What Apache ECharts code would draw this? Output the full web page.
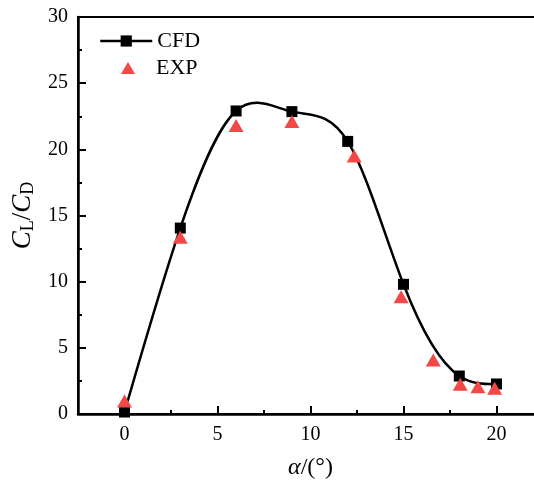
<!DOCTYPE html>
<html>
<head>
<meta charset="utf-8">
<script src="https://cdn.jsdelivr.net/npm/echarts@6/dist/echarts.min.js"></script>
<style>
  html, body { margin: 0; padding: 0; background: #fff; }
  #chart { width: 534px; height: 488px; }
</style>
</head>
<body>
<div id="chart"></div>
<script>
// Angle of attack (deg) and lift-to-drag ratio
const cfdAlpha = [0, 3, 6, 9, 12, 15, 18, 20];
const cfdRatio = [0.15, 14.05, 22.9, 22.85, 20.6, 9.8, 2.87, 2.27];
const expAlpha = [0, 3, 6, 9, 12.35, 14.87, 16.6, 18.05, 19.0, 19.9];
const expRatio = [0.98, 13.35, 21.8, 22.1, 19.5, 8.86, 4.08, 2.24, 2.06, 1.94];
const xTicks = [0, 5, 10, 15, 20];
const xMinorTicks = [2.5, 7.5, 12.5, 17.5];
const yTicks = [0, 5, 10, 15, 20, 25, 30];

const pair = (xs, ys) => xs.map((x, i) => [x, ys[i]]);
const font = '"Liberation Serif", "Times New Roman", serif';

// Natural cubic spline slopes at each knot
function splineSlopes(xs, ys) {
  const n = xs.length;
  const h = [], a = new Array(n).fill(0), b = new Array(n).fill(0),
        c = new Array(n).fill(0), d = new Array(n).fill(0);
  for (let i = 0; i < n - 1; i++) h.push(xs[i + 1] - xs[i]);
  b[0] = 1; b[n - 1] = 1;
  for (let i = 1; i < n - 1; i++) {
    a[i] = h[i - 1];
    b[i] = 2 * (h[i - 1] + h[i]);
    c[i] = h[i];
    d[i] = 6 * ((ys[i + 1] - ys[i]) / h[i] - (ys[i] - ys[i - 1]) / h[i - 1]);
  }
  // Thomas algorithm for second derivatives
  for (let i = 1; i < n; i++) {
    const m = a[i] / b[i - 1];
    b[i] -= m * c[i - 1];
    d[i] -= m * d[i - 1];
  }
  const M = new Array(n).fill(0);
  M[n - 1] = d[n - 1] / b[n - 1];
  for (let i = n - 2; i >= 0; i--) M[i] = (d[i] - c[i] * M[i + 1]) / b[i];
  const s = [];
  for (let i = 0; i < n - 1; i++) {
    s.push((ys[i + 1] - ys[i]) / h[i] - h[i] * (2 * M[i] + M[i + 1]) / 6);
  }
  const k = n - 2;
  s.push((ys[k + 1] - ys[k]) / h[k] + h[k] * (M[k] + 2 * M[k + 1]) / 6);
  return s;
}
const cfdSlopes = splineSlopes(cfdAlpha, cfdRatio);

// Draws the CFD spline as cubic Bezier segments through the axis scales
function renderSpline(params, api) {
  if (params.dataIndex !== 0) return null;
  const children = [];
  for (let i = 0; i < cfdAlpha.length - 1; i++) {
    const x0 = cfdAlpha[i], x1 = cfdAlpha[i + 1];
    const y0 = cfdRatio[i], y1 = cfdRatio[i + 1];
    const h = (x1 - x0) / 3;
    const p0 = api.coord([x0, y0]);
    const c0 = api.coord([x0 + h, y0 + cfdSlopes[i] * h]);
    const c1 = api.coord([x1 - h, y1 - cfdSlopes[i + 1] * h]);
    const p1 = api.coord([x1, y1]);
    children.push({
      type: 'bezierCurve',
      shape: { x1: p0[0], y1: p0[1], cpx1: c0[0], cpy1: c0[1], cpx2: c1[0], cpy2: c1[1], x2: p1[0], y2: p1[1] },
      style: { stroke: '#000', lineWidth: 2.5, fill: null }
    });
  }
  return { type: 'group', children };
}

const chart = echarts.init(document.getElementById('chart'), null, { renderer: 'canvas' });
chart.setOption({
  animation: false,
  backgroundColor: '#fff',
  grid: {
    left: 78, top: 17, width: 465, height: 397,
    outerBoundsMode: 'none', containLabel: false,
    show: true, borderColor: '#000', borderWidth: 2
  },
  legend: [
    {
      left: 99, top: 30, padding: 0, itemWidth: 52, itemHeight: 14,
      textStyle: { fontFamily: font, fontSize: 22, color: '#000' },
      data: [{ name: 'CFD', lineStyle: { opacity: 1, width: 2.5, color: '#000' } }]
    },
    {
      left: 121, top: 57, padding: 0, itemWidth: 14, itemHeight: 12,
      textStyle: { fontFamily: font, fontSize: 22, color: '#000', padding: [0, 0, 0, 16] },
      data: [{ name: 'EXP' }]
    }
  ],
  xAxis: [
    {
      type: 'value', min: -2.5, max: 22.5,
      axisLine: { lineStyle: { color: '#000', width: 2.5 } },
      axisTick: { inside: true, length: 8, customValues: xTicks, lineStyle: { color: '#000', width: 2 } },
      splitLine: { show: false },
      axisLabel: { fontFamily: font, fontSize: 20, color: '#000', margin: 11, customValues: xTicks },
      name: '{i|α}/(°)', nameLocation: 'middle', nameGap: 42,
      nameTextStyle: {
        fontFamily: font, fontSize: 24, color: '#000',
        rich: { i: { fontFamily: font, fontSize: 24, fontStyle: 'italic', color: '#000' } }
      }
    },
    {
      type: 'value', min: -2.5, max: 22.5, position: 'bottom', offset: 0,
      axisLine: { show: false },
      axisTick: { inside: true, length: 4, customValues: xMinorTicks, lineStyle: { color: '#000', width: 2 } },
      axisLabel: { show: false },
      splitLine: { show: false }
    }
  ],
  yAxis: {
    type: 'value', min: 0, max: 30, interval: 5,
    axisLine: { show: true, onZero: false, lineStyle: { color: '#000', width: 2.5 } },
    axisTick: { inside: true, length: 8, lineStyle: { color: '#000', width: 2 } },
    minorTick: { show: true, splitNumber: 2, length: 4, lineStyle: { color: '#000', width: 2 } },
    splitLine: { show: false },
    axisLabel: { fontFamily: font, fontSize: 20, color: '#000', margin: 10 },
    name: '{i|C}{s|L}{n|/}{i|C}{s|D}', nameLocation: 'middle', nameRotate: 90, nameGap: 35,
    nameTextStyle: {
      fontFamily: font, fontSize: 24, color: '#000',
      rich: {
        i: { fontFamily: font, fontSize: 27, fontStyle: 'italic', color: '#000' },
        n: { fontFamily: font, fontSize: 27, color: '#000' },
        s: { fontFamily: font, fontSize: 18, color: '#000', verticalAlign: 'bottom', padding: [11, 0, 0, 0] }
      }
    }
  },
  series: [
    {
      name: 'CFD curve', type: 'custom', coordinateSystem: 'cartesian2d',
      renderItem: renderSpline, data: pair(cfdAlpha, cfdRatio),
      encode: { x: 0, y: 1 }, clip: true, silent: true, z: 1
    },
    {
      name: 'CFD', type: 'line',
      data: pair(cfdAlpha, cfdRatio),
      symbol: 'rect', symbolSize: 11,
      lineStyle: { color: '#000', width: 2.5, opacity: 0 },
      itemStyle: { color: '#000' },
      z: 2
    },
    {
      name: 'EXP', type: 'scatter',
      data: pair(expAlpha, expRatio),
      symbol: 'triangle', symbolSize: [15, 13],
      itemStyle: { color: '#f34848', opacity: 1 },
      z: 3
    }
  ]
});
</script>
</body>
</html>
